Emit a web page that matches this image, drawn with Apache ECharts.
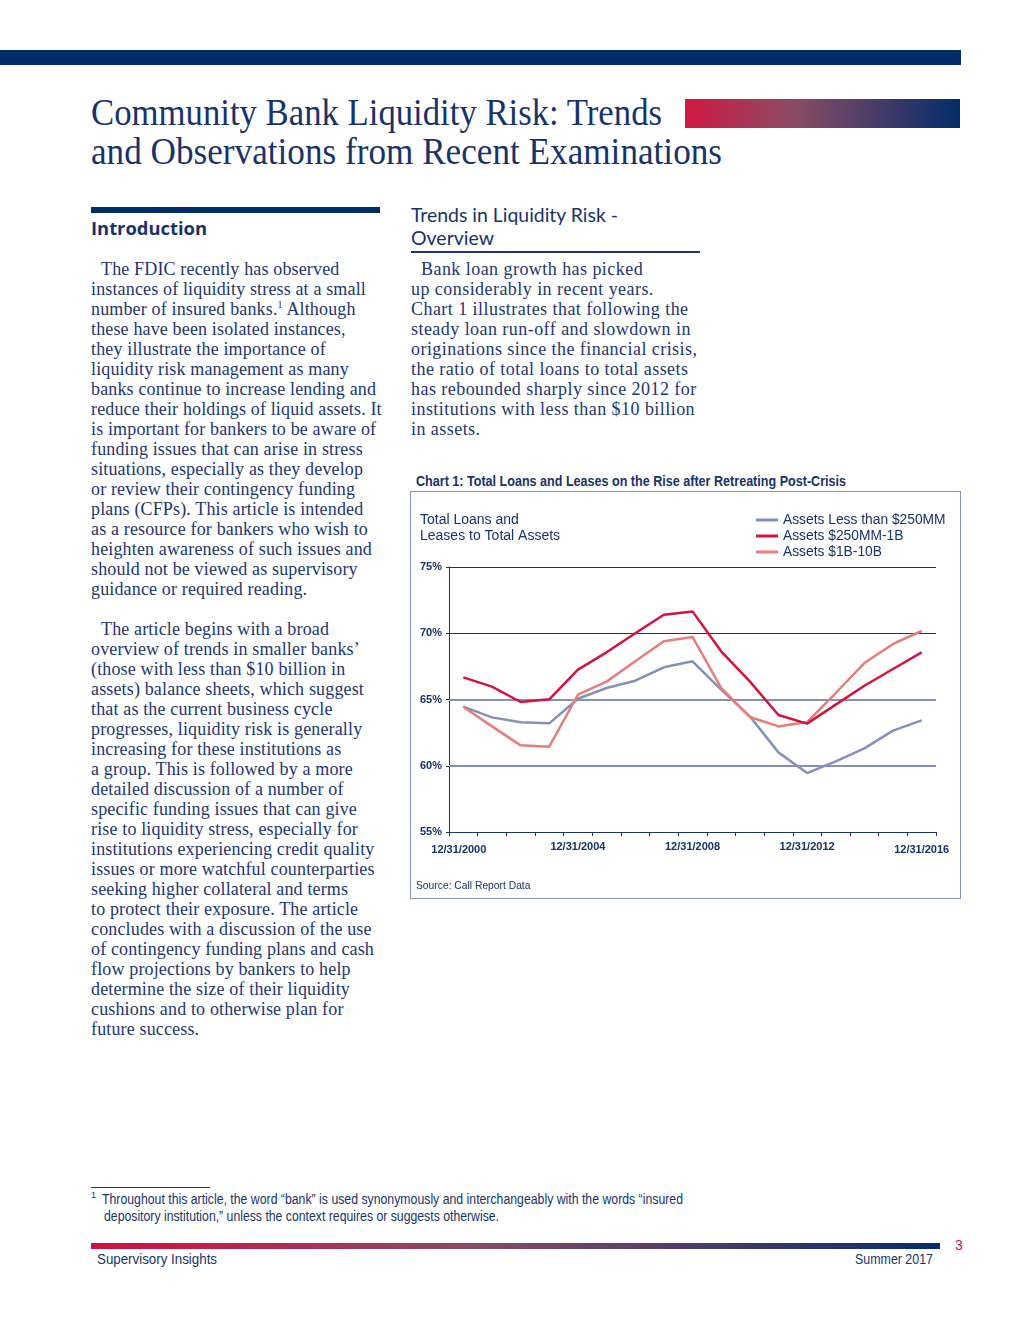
<!DOCTYPE html>
<html>
<head>
<meta charset="utf-8">
<script src="https://cdn.jsdelivr.net/npm/echarts@6/dist/echarts.min.js"></script>
<style>
  html, body { margin: 0; padding: 0; background: #fff; }
  body { width: 1020px; height: 1320px; position: relative; overflow: hidden; }
  .abs { position: absolute; white-space: nowrap; }
  .navy { color: #17336a; }
  .serif { font-family: 'Liberation Serif', 'DejaVu Serif', serif; }
  .body { font-family: 'Liberation Serif', serif; font-size: 18px; line-height: 20px; color: #1d3770; letter-spacing: 0.15px; }
  .body div { white-space: nowrap; height: 20px; }
  .narrow { font-family: 'Liberation Sans', Arial, sans-serif; }
  .fit { transform-origin: 0 50%; display: inline-block; }
</style>
</head>
<body>
<!-- top bar -->
<div class="abs" style="left:0;top:50px;width:961px;height:15px;background:#022c69;"></div>

<!-- title -->
<div class="abs serif navy" style="left:91px;top:93px;font-size:37px;line-height:39px;">
  <div><span class="fit" data-w="571">Community Bank Liquidity Risk: Trends</span></div>
  <div><span class="fit" data-w="631">and Observations from Recent Examinations</span></div>
</div>
<div class="abs" style="left:685px;top:99px;width:275px;height:29px;background:linear-gradient(to right,#cf1a43,#8a4c65 40%,#022c69);"></div>

<!-- Introduction header -->
<div class="abs" style="left:91px;top:207px;width:289px;height:6px;background:#022c69;"></div>
<div class="abs navy" style="left:91px;top:216px;font-family:'Open Sans',sans-serif;font-weight:700;font-size:18px;line-height:24px;">
  <span class="fit" data-w="116">Introduction</span>
</div>

<!-- Trends header -->
<div class="abs navy" style="left:411px;top:203px;font-family:Lato,sans-serif;font-size:19px;line-height:23px;">
  <span class="fit" data-w="207">Trends in Liquidity Risk -</span>
</div>
<div class="abs navy" style="left:411px;top:226px;font-family:Lato,sans-serif;font-size:19px;line-height:23px;">
  <span class="fit" data-w="83">Overview</span>
</div>
<div class="abs" style="left:411px;top:251px;width:289px;height:2px;background:#1d3770;"></div>

<!-- left column paragraph 1 -->
<div class="abs body" style="left:91px;top:259px;">
  <div style="padding-left:10px;">The FDIC recently has observed</div>
  <div>instances of liquidity stress at a small</div>
  <div>number of insured banks.<sup style="font-size:10px;line-height:0;">1</sup> Although</div>
  <div>these have been isolated instances,</div>
  <div>they illustrate the importance of</div>
  <div>liquidity risk management as many</div>
  <div>banks continue to increase lending and</div>
  <div>reduce their holdings of liquid assets. It</div>
  <div>is important for bankers to be aware of</div>
  <div>funding issues that can arise in stress</div>
  <div>situations, especially as they develop</div>
  <div>or review their contingency funding</div>
  <div>plans (CFPs). This article is intended</div>
  <div>as a resource for bankers who wish to</div>
  <div>heighten awareness of such issues and</div>
  <div>should not be viewed as supervisory</div>
  <div>guidance or required reading.</div>
</div>

<!-- left column paragraph 2 -->
<div class="abs body" style="left:91px;top:619px;">
  <div style="padding-left:10px;">The article begins with a broad</div>
  <div>overview of trends in smaller banks’</div>
  <div>(those with less than $10 billion in</div>
  <div>assets) balance sheets, which suggest</div>
  <div>that as the current business cycle</div>
  <div>progresses, liquidity risk is generally</div>
  <div>increasing for these institutions as</div>
  <div>a group. This is followed by a more</div>
  <div>detailed discussion of a number of</div>
  <div>specific funding issues that can give</div>
  <div>rise to liquidity stress, especially for</div>
  <div>institutions experiencing credit quality</div>
  <div>issues or more watchful counterparties</div>
  <div>seeking higher collateral and terms</div>
  <div>to protect their exposure. The article</div>
  <div>concludes with a discussion of the use</div>
  <div>of contingency funding plans and cash</div>
  <div>flow projections by bankers to help</div>
  <div>determine the size of their liquidity</div>
  <div>cushions and to otherwise plan for</div>
  <div>future success.</div>
</div>

<!-- right column -->
<div class="abs body" style="left:411px;top:259px;letter-spacing:0.45px;">
  <div style="padding-left:10px;">Bank loan growth has picked</div>
  <div>up considerably in recent years.</div>
  <div>Chart 1 illustrates that following the</div>
  <div>steady loan run-off and slowdown in</div>
  <div>originations since the financial crisis,</div>
  <div>the ratio of total loans to total assets</div>
  <div>has rebounded sharply since 2012 for</div>
  <div>institutions with less than $10 billion</div>
  <div>in assets.</div>
</div>

<!-- chart title -->
<div class="abs narrow navy" style="left:416px;top:471px;font-size:15px;font-weight:700;line-height:20px;">
  <span class="fit" data-w="430">Chart 1: Total Loans and Leases on the Rise after Retreating Post-Crisis</span>
</div>

<!-- chart box -->
<div class="abs" style="left:410px;top:491px;width:549px;height:406px;border:1px solid #8793b8;"></div>
<div id="chart" class="abs" style="left:411px;top:492px;width:549px;height:406px;"></div>

<!-- footnote -->
<div class="abs" style="left:91px;top:1187px;width:119px;height:1px;background:#1d3770;"></div>
<div class="abs narrow navy" style="left:91px;top:1190px;font-size:9px;line-height:10px;">1</div>
<div class="abs narrow navy" style="left:102px;top:1191px;font-size:14px;line-height:16px;">
  <span class="fit" data-w="581">Throughout this article, the word “bank” is used synonymously and interchangeably with the words “insured</span>
</div>
<div class="abs narrow navy" style="left:104px;top:1208px;font-size:14px;line-height:16px;">
  <span class="fit" data-w="395">depository institution,” unless the context requires or suggests otherwise.</span>
</div>

<!-- footer -->
<div class="abs" style="left:91px;top:1243px;width:849px;height:6px;background:linear-gradient(to right,#d0123f,#8a4a66 45%,#062d6a);"></div>
<div class="abs narrow" style="left:955px;top:1237px;font-size:14px;line-height:16px;color:#d0123f;">3</div>
<div class="abs narrow navy" style="left:97px;top:1250px;font-size:15px;line-height:18px;">
  <span class="fit" data-w="120">Supervisory Insights</span>
</div>
<div class="abs narrow navy" style="left:855px;top:1250px;font-size:15px;line-height:18px;">
  <span class="fit" data-w="78">Summer 2017</span>
</div>

<script>
// ---------------- data ----------------
const categories = ['12/31/2000','12/31/2001','12/31/2002','12/31/2003','12/31/2004','12/31/2005',
  '12/31/2006','12/31/2007','12/31/2008','12/31/2009','12/31/2010','12/31/2011','12/31/2012',
  '12/31/2013','12/31/2014','12/31/2015','12/31/2016'];
const seriesNames = ['Assets Less than $250MM', 'Assets $250MM-1B', 'Assets $1B-10B'];
const assetsLess250MM = [64.46, 63.65, 63.28, 63.20, 65.06, 65.87, 66.42, 67.43, 67.88, 65.74, 63.73, 61.01, 59.45, 60.33, 61.31, 62.65, 63.43];
const assets250MMto1B = [66.67, 65.97, 64.81, 65.01, 67.25, 68.56, 70.00, 71.40, 71.65, 68.64, 66.37, 63.83, 63.18, 64.61, 66.04, 67.30, 68.56];
const assets1Bto10B   = [64.46, 62.97, 61.54, 61.44, 65.36, 66.35, 67.88, 69.39, 69.72, 65.87, 63.68, 62.97, 63.30, 65.49, 67.75, 69.19, 70.17];
const yMin = 55, yMax = 75, yStep = 5;
const heavyGridValues = [60, 65];
const yTitle = 'Total Loans and\nLeases to Total Assets';
const sourceText = 'Source: Call Report Data';

// -------------- fit helper --------------
document.querySelectorAll('.fit').forEach(el => {
  const w = el.getBoundingClientRect().width;
  const t = parseFloat(el.dataset.w);
  if (w > 0 && t) el.style.transform = 'scaleX(' + (t / w) + ')';
});

// -------------- chart --------------
const NAVY = '#17336a';
const GRAYBLUE = '#8490b8';
const SANS = "'Liberation Sans', Arial, sans-serif";
const chart = echarts.init(document.getElementById('chart'), null, { renderer: 'canvas' });
const labelIdx = [0, 4, 8, 12, 16];
chart.setOption({
  animation: false,
  color: [GRAYBLUE, '#d2143f', '#e87b7b'],
  title: {
    text: yTitle, left: 9, top: 20, padding: 0,
    textStyle: { fontFamily: SANS, fontSize: 14, fontWeight: 'normal', color: NAVY, lineHeight: 16 }
  },
  legend: {
    orient: 'vertical', left: 345, top: 21, padding: 0,
    icon: 'rect', itemWidth: 22, itemHeight: 3, itemGap: 2,
    data: seriesNames,
    textStyle: { fontFamily: SANS, fontSize: 13.8, color: NAVY, lineHeight: 14 }
  },
  graphic: [{
    type: 'text', left: 5, top: 389,
    style: { text: sourceText, fontFamily: SANS, fontSize: 10.3, fill: NAVY }
  }],
  grid: { left: 38, top: 75, width: 487, height: 265, containLabel: false },
  xAxis: {
    type: 'category', data: categories, boundaryGap: true,
    axisLine: { lineStyle: { color: NAVY, width: 1 } },
    axisTick: { show: true, interval: 0, length: 4, lineStyle: { color: NAVY } },
    axisLabel: {
      interval: 0, margin: 9,
      formatter: (v, i) => {
        if (labelIdx.indexOf(i) < 0) return '';
        if (i === 0) return '{first|' + v + '}';
        if (i === categories.length - 1) return '{low|' + v + '}';
        return '{n|' + v + '}';
      },
      rich: {
        n: { fontFamily: SANS, fontWeight: 'bold', fontSize: 11, color: NAVY },
        low: { fontFamily: SANS, fontWeight: 'bold', fontSize: 11, color: NAVY, padding: [3, 0, 0, 0] },
        first: { fontFamily: SANS, fontWeight: 'bold', fontSize: 11, color: NAVY, padding: [3, 9, 0, 0] }
      }
    },
    splitLine: { show: false }
  },
  yAxis: {
    type: 'value', min: yMin, max: yMax, interval: yStep,
    axisLine: { show: true, lineStyle: { color: NAVY, width: 1 } },
    axisTick: { show: true, length: 3, lineStyle: { color: NAVY } },
    axisLabel: { formatter: '{value}%', margin: 7, fontFamily: SANS, fontWeight: 'bold', fontSize: 11, color: NAVY },
    splitLine: { show: true, lineStyle: { color: [NAVY, 'rgba(0,0,0,0)', 'rgba(0,0,0,0)', NAVY, NAVY], width: 1 } }
  },
  series: [
    {
      name: seriesNames[0], type: 'line', data: assetsLess250MM, symbol: 'none', z: 3,
      lineStyle: { width: 2.5 },
      markLine: {
        silent: true, symbol: 'none', label: { show: false }, z: 1,
        lineStyle: { color: GRAYBLUE, width: 2, type: 'solid' },
        data: heavyGridValues.map(v => ({ yAxis: v }))
      }
    },
    { name: seriesNames[1], type: 'line', data: assets250MMto1B, symbol: 'none', z: 4, lineStyle: { width: 2.5 } },
    { name: seriesNames[2], type: 'line', data: assets1Bto10B, symbol: 'none', z: 3, lineStyle: { width: 2.5 } }
  ]
});
</script>
</body>
</html>
